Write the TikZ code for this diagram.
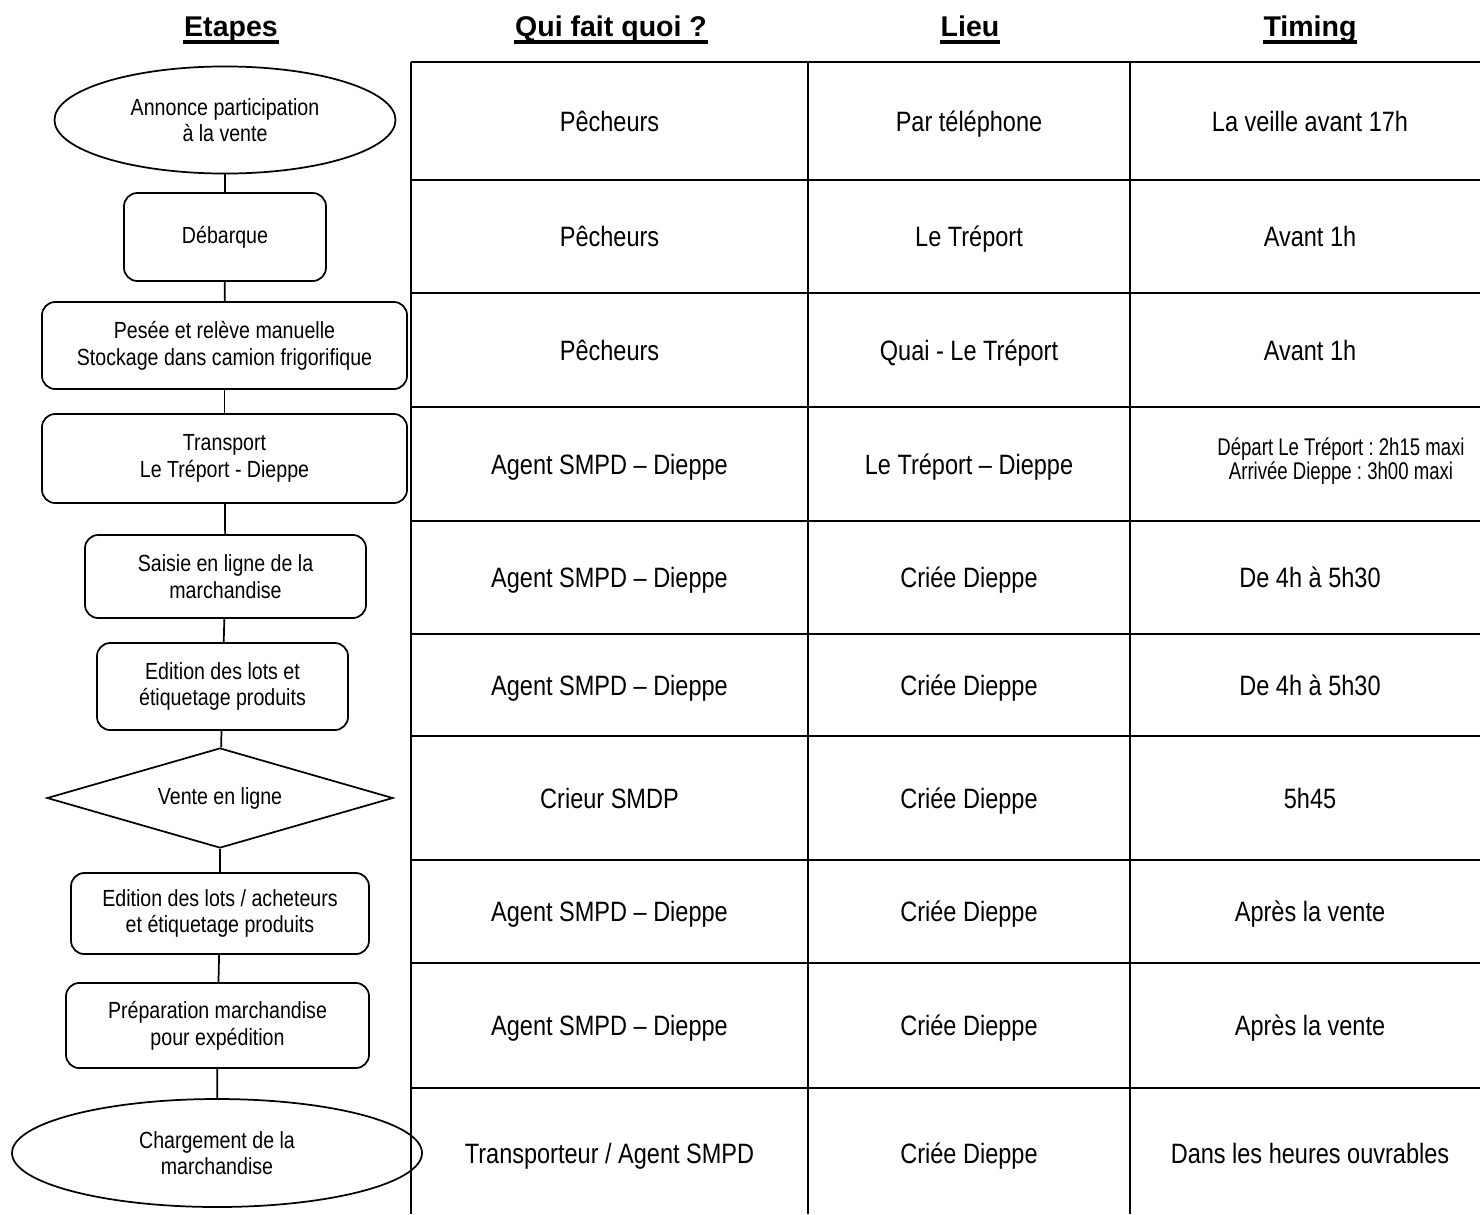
\documentclass[tikz,border=0pt]{standalone}
\usepackage{fontspec}
\setmainfont{Liberation Sans}
\newfontfamily\narrowfont{Liberation Sans}[FakeStretch=0.84]
\newfontfamily\narrowerfont{Liberation Sans}[FakeStretch=0.77]
\usetikzlibrary{shapes.geometric,calc}
\newcommand\petit{\fontsize{18.1}{18.4}\selectfont}
\frenchspacing

\begin{document}
\begin{tikzpicture}[x=0.75pt,y=-0.75pt,line width=1.3pt]
\tikzstyle{txt}=[align=center, font=\narrowfont\fontsize{17.5}{20}\selectfont]
\tikzstyle{etape}=[txt, draw, rounded corners=10pt, inner sep=2pt]
\tikzstyle{bout}=[txt, draw, ellipse, inner sep=0pt]
\tikzstyle{choix}=[txt, draw, diamond, aspect=3.46, inner sep=0pt]
\tikzstyle{cell}=[anchor=base, align=center, font=\narrowfont\fontsize{21}{25}\selectfont]
\tikzstyle{hdr}=[anchor=base, inner sep=0pt, font=\bfseries\fontsize{21.4}{24}\selectfont]
\clip (0,0) rectangle (1480,1214);

% titres
\node[hdr] (h1) at (231,36) {Etapes};
\node[hdr] (h2) at (611,36) {Qui fait quoi ?};
\node[hdr] (h3) at (970,36) {Lieu};
\node[hdr] (h4) at (1310,36) {Timing};
\foreach \h in {h1,h2,h3,h4}
  \draw[line width=2.4pt] ($(\h.base west)+(0,6)$) -- ($(\h.base east)+(0,6)$);

% etapes
\node[bout, minimum width=255.8pt, minimum height=80.3pt] (ann) at (225,120) {Annonce participation\\ à la vente};
\node[etape, minimum width=151.5pt, minimum height=66pt] (deb) at (225,237) {Débarque};
\node[etape, minimum width=273.8pt, minimum height=65.3pt] (pes) at (224.5,345.5) {Pesée et relève manuelle\\ Stockage dans camion frigorifique};
\node[etape, minimum width=273.8pt, minimum height=66.8pt] (tra) at (224.5,458.5) {Transport\\ Le Tréport - Dieppe};
\node[etape, minimum width=210.8pt, minimum height=62.3pt] (sai) at (225.5,576.5) {Saisie en ligne de la\\ marchandise};
\node[etape, minimum width=188.3pt, minimum height=65.3pt] (edi) at (222.5,686.5) {Edition des lots et\\ étiquetage produits};
\node[choix, minimum width=259.5pt, minimum height=75pt] (ven) at (220,798) {Vente en ligne};
\node[etape, minimum width=223.5pt, minimum height=60.8pt] (edl) at (220,913.5) {Edition des lots / acheteurs\\ et étiquetage produits};
\node[etape, minimum width=227.3pt, minimum height=63.8pt] (pre) at (217.5,1025.5) {Préparation marchandise\\ pour expédition};
\node[bout, minimum width=307.5pt, minimum height=81pt] (cha) at (217,1153) {Chargement de la\\ marchandise};
\foreach \a/\b in {ann/deb,deb/pes,pes/tra,tra/sai,sai/edi,edi/ven,ven/edl,edl/pre,pre/cha}
  \draw (\a) -- (\b);

% tableau
\foreach \x in {411,808,1130}
  \draw (\x,62) -- (\x,1214);
\foreach \y in {62,180,293,407,521,634,736,860,963,1088}
  \draw (411,\y) -- (1480,\y);

\foreach \y/\qui/\lieu/\quand [count=\i] in {
    121/Pêcheurs/Par téléphone/La veille avant 17h,
    236.5/Pêcheurs/Le Tréport/Avant 1h,
    350/Pêcheurs/Quai - Le Tréport/Avant 1h,
    464/Agent SMPD – Dieppe/Le Tréport – Dieppe/,
    577.5/Agent SMPD – Dieppe/Criée Dieppe/De 4h à 5h30,
    685/Agent SMPD – Dieppe/Criée Dieppe/De 4h à 5h30,
    798/Crieur SMDP/Criée Dieppe/5h45,
    911.5/Agent SMPD – Dieppe/Criée Dieppe/Après la vente,
    1025.5/Agent SMPD – Dieppe/Criée Dieppe/Après la vente,
    1153/{Transporteur / Agent SMPD}/Criée Dieppe/Dans les heures ouvrables}{
  \node[cell] (qui\i) at (609.5,\y+10) {\qui};
  \node[cell] (lieu\i) at (969,\y+10) {\lieu};
  \node[cell] (quand\i) at (1310,\y+10) {\quand};
}
\node[align=center, font=\narrowerfont\petit] (depart) at (1341,461) {Départ Le Tréport : 2h15 maxi\\ Arrivée Dieppe : 3h00 maxi};
\end{tikzpicture}
\end{document}
